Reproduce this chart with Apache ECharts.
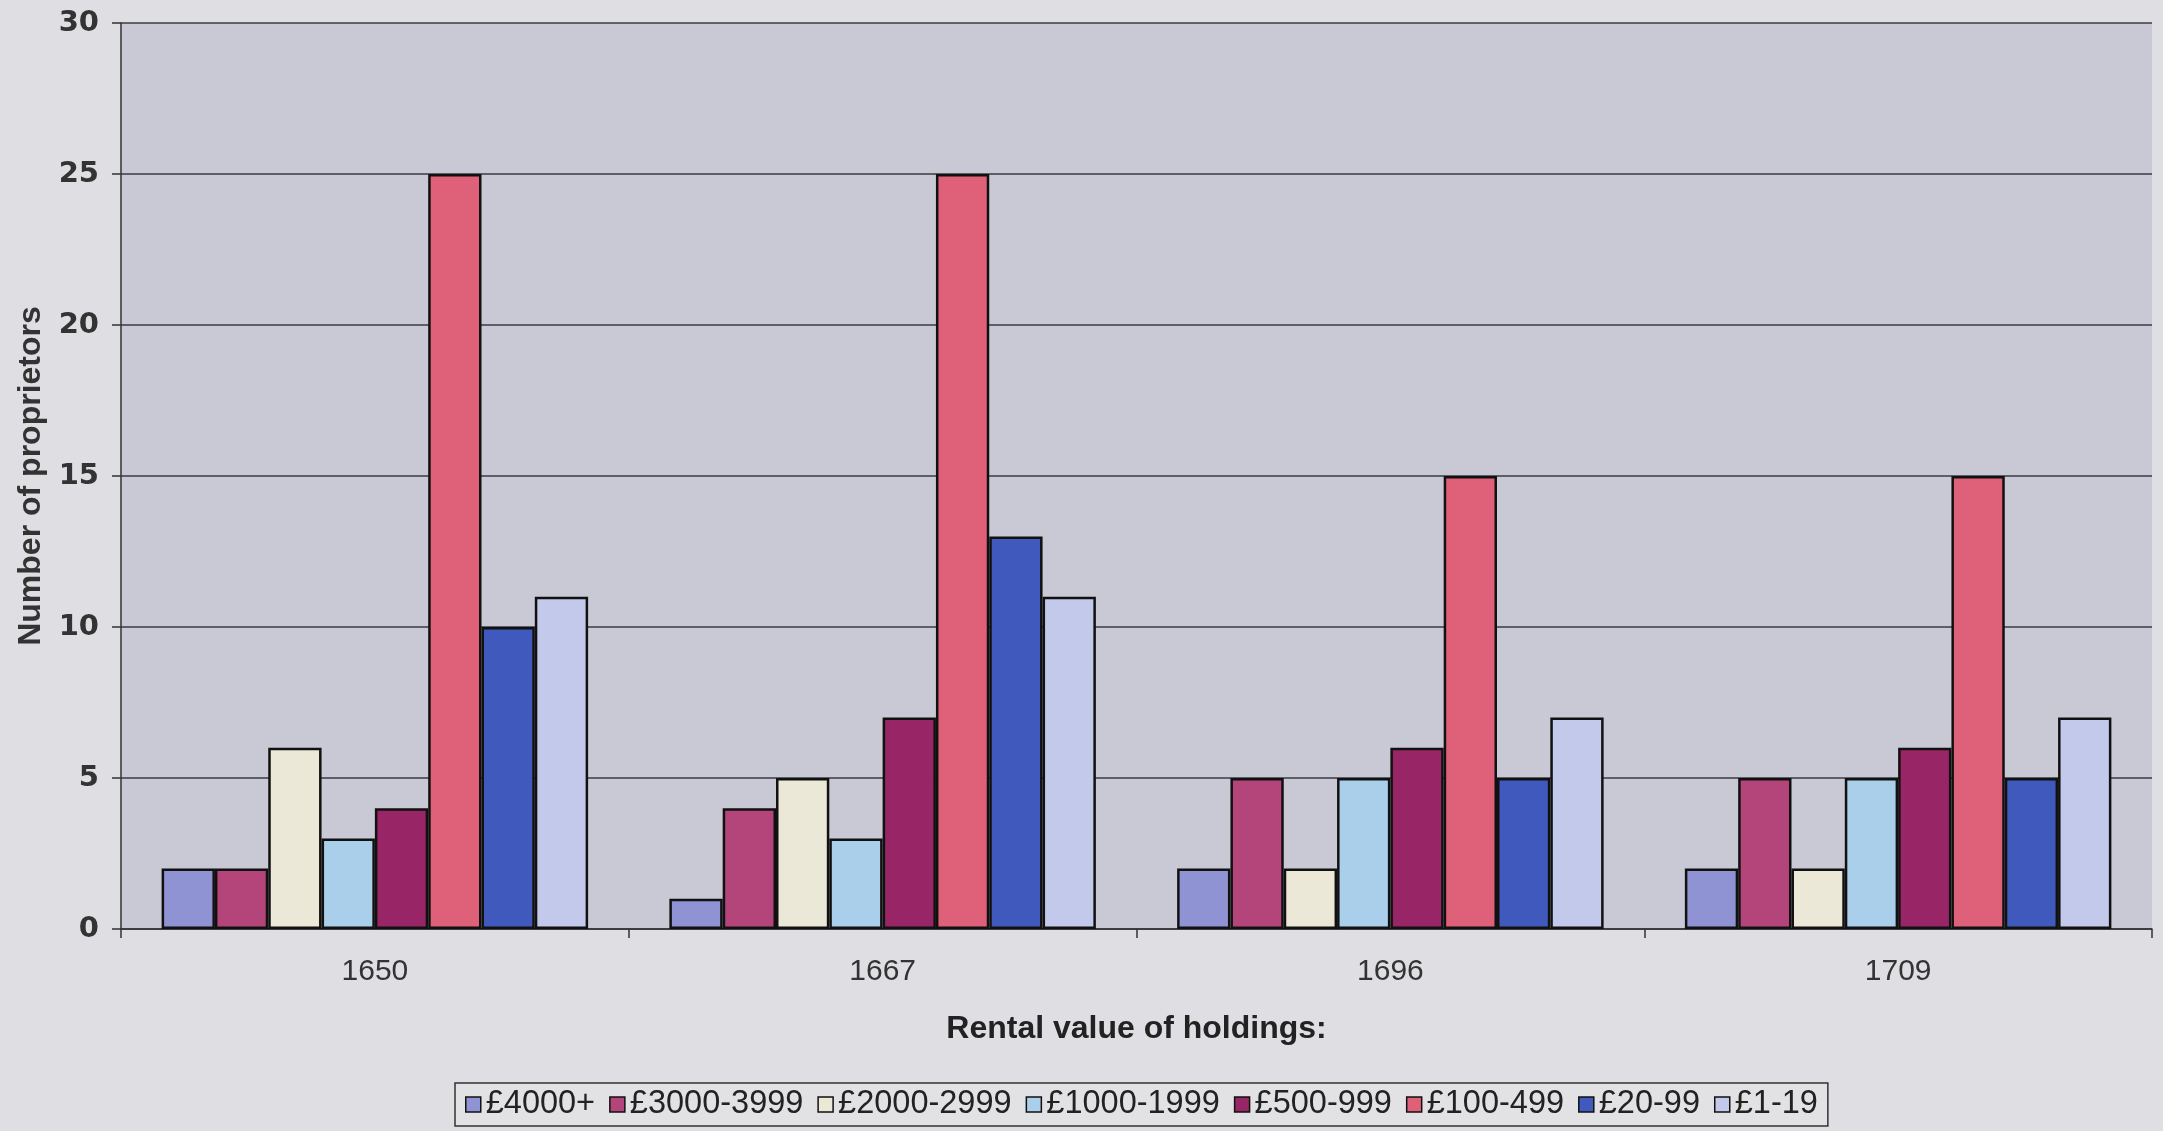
<!DOCTYPE html>
<html><head><meta charset="utf-8">
<script src="https://cdn.jsdelivr.net/npm/echarts@6/dist/echarts.min.js"></script>
<style>html,body{margin:0;padding:0;background:#dfdee3;}#c{width:2163px;height:1131px;}</style>
</head><body><div id="c"></div>
<script>
const categories = ['1650', '1667', '1696', '1709'];
const seriesNames = ['£4000+', '£3000-3999', '£2000-2999', '£1000-1999', '£500-999', '£100-499', '£20-99', '£1-19'];
const v4000 = [2, 1, 2, 2];
const v3000 = [2, 4, 5, 5];
const v2000 = [6, 5, 2, 2];
const v1000 = [3, 3, 5, 5];
const v500 = [4, 7, 6, 6];
const v100 = [25, 25, 15, 15];
const v20 = [10, 13, 5, 5];
const v1 = [11, 11, 7, 7];
const yTicks = [0, 5, 10, 15, 20, 25, 30];
const colors = ['#8f93d4', '#b3457a', '#ebe8d8', '#a9cfea', '#982566', '#df6079', '#4059bd', '#c3c9ea'];
const values = [v4000, v3000, v2000, v1000, v500, v100, v20, v1];

const chart = echarts.init(document.getElementById('c'), null, {renderer: 'canvas'});
chart.setOption({
  backgroundColor: '#dfdee3',
  animation: false,
  grid: {left: 121, right: 11, top: 23, bottom: 202, show: true, backgroundColor: '#c8c9d5', borderWidth: 0},
  legend: {
    data: seriesNames,
    left: 455, top: 1083,
    padding: [5, 10, 5, 10],
    borderColor: '#333', borderWidth: 1.5, backgroundColor: '#e2e1e4',
    itemWidth: 15, itemHeight: 15, itemGap: 14,
    icon: 'rect',
    itemStyle: {borderColor: '#111', borderWidth: 1.5},
    textStyle: {fontFamily: 'Liberation Sans', fontSize: 32.5, color: '#222'}
  },
  xAxis: {
    type: 'category', data: categories,
    name: 'Rental value of holdings:', nameLocation: 'middle', nameGap: 84,
    nameTextStyle: {fontFamily: 'Liberation Sans', fontWeight: 'bold', fontSize: 32, color: '#222'},
    axisLine: {lineStyle: {color: '#333', width: 1.5}},
    axisTick: {show: true, length: 9, lineStyle: {color: '#333', width: 1.5}},
    axisLabel: {fontFamily: 'Liberation Sans', fontSize: 30, color: '#333', margin: 28}
  },
  yAxis: {
    type: 'value', min: 0, max: 30, interval: 5,
    name: 'Number of proprietors', nameLocation: 'middle', nameGap: 74,
    nameTextStyle: {fontFamily: 'Liberation Sans', fontWeight: 'bold', fontSize: 32, color: '#333'},
    axisLine: {show: true, lineStyle: {color: '#333', width: 1.5}},
    axisTick: {show: true, length: 9, lineStyle: {color: '#333', width: 1.5}},
    axisLabel: {fontFamily: 'DejaVu Sans', fontWeight: 'bold', fontSize: 29, color: '#333', margin: 22,
      formatter: v => yTicks.includes(v) ? String(v) : ''},
    splitLine: {lineStyle: {color: '#3a3a44', width: 1.5}}
  },
  series: seriesNames.map((n, i) => ({
    name: n, type: 'bar', data: values[i],
    barGap: '0%', barCategoryGap: '16%',
    itemStyle: {color: colors[i], borderColor: '#111', borderWidth: 2.5}
  }))
});
</script></body></html>
